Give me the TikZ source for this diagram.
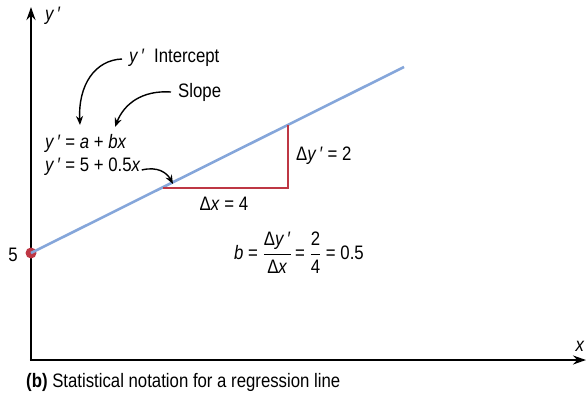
\documentclass[tikz,border=0pt]{standalone}
\usepackage{fontspec}
\setmainfont[FakeStretch=0.86]{Liberation Sans}
\usetikzlibrary{arrows.meta}
\definecolor{regblue}{RGB}{133,166,218}
\definecolor{regred}{RGB}{190,55,68}
\begin{document}
\begin{tikzpicture}[x=1pt,y=-1pt,
  lbl/.style={inner sep=0pt,font=\fontsize{19.5}{22}\selectfont},
  axis/.style={line width=2.4pt,-{Stealth[length=13pt,width=9pt]}},
  callout/.style={line width=1.4pt,-{Stealth[length=9pt,width=7pt]}}]
\useasboundingbox (0,0) rectangle (587,402);
% axes
\coordinate (origin) at (31,360);
\coordinate (ytip) at (31,7);
\coordinate (xtip) at (586,360);
\draw[axis] (origin) -- (ytip);
\draw[axis] ([xshift=-1.2pt]origin) -- (xtip);
\node[lbl,anchor=west] (ylab) at (45,16) {\textit{y}\,′};
\node[lbl] (xlab) at (580,346) {\textit{x}};
% regression line
\node[circle,fill=regred,minimum size=11pt,inner sep=0pt] (dot) at (31,253) {};
\coordinate (lend) at (404,67);
\draw[regblue,line width=2.6pt] (dot.center) -- (lend);
% slope triangle
\coordinate (t1) at (163,188);
\coordinate (t2) at (288,188);
\coordinate (t3) at (288,125);
\draw[regred,line width=2.8pt] (t1) -- (t2) -- (t3);
\node[lbl] (five) at (13,255) {5};
% equations
\node[lbl,anchor=west] (eq1) at (45,143) {\textit{y}\,′ = \textit{a} + \textit{bx}};
\node[lbl,anchor=west] (eq2) at (45,167) {\textit{y}\,′ = 5 + 0.5\textit{x}};
\node[lbl,anchor=west] (intc) at (129,58) {\textit{y}\,′\ \ Intercept};
\node[lbl,anchor=west] (slope) at (178,92) {Slope};
\node[lbl,anchor=west] (dy) at (296,156) {Δ\textit{y}\,′ = 2};
\node[lbl] (dx) at (224,204) {Δ\textit{x} = 4};
\node[lbl] (bf) at (299,253) {\textit{b} = $\displaystyle\frac{\mbox{Δ\textit{y}\,′}}{\mbox{Δ\textit{x}}}$\,= $\displaystyle\frac{\mbox{2}}{\mbox{4}}$ = 0.5};
\node[lbl,anchor=west] (cap) at (26,382) {\textbf{(b)} Statistical notation for a regression line};
% callout arrows
\coordinate (ia) at (80,125);
\coordinate (sa) at (115,127);
\coordinate (la) at (173,184);
\draw[callout] ([xshift=-7pt,yshift=-1pt]intc.west) .. controls (95,60) and (78,85) .. (ia);
\draw[callout] ([xshift=-7pt]slope.west) .. controls (142,90) and (124,104) .. (sa);
\draw[callout] ([xshift=1pt,yshift=-3pt]eq2.east) .. controls (158,166) and (167,173) .. (la);
\end{tikzpicture}
\end{document}
